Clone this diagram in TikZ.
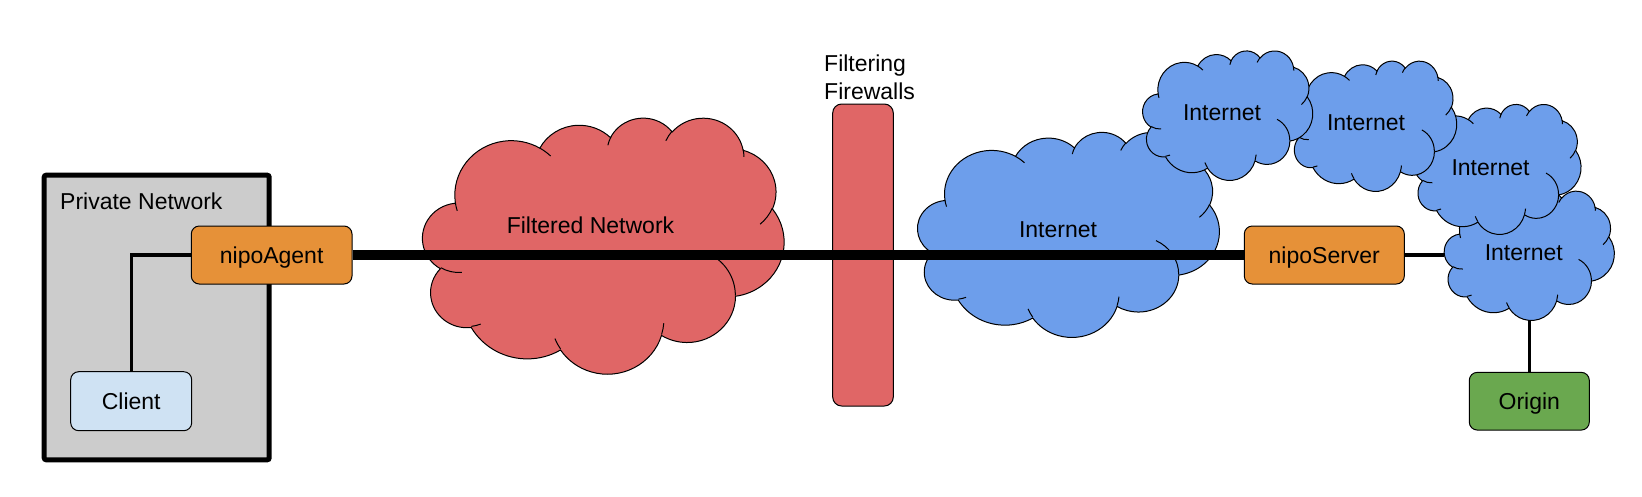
\documentclass[tikz,border=0pt]{standalone}
\usepackage{fontspec}
\setmainfont{Liberation Sans}
\definecolor{pgray}{HTML}{CCCCCC}
\definecolor{porange}{HTML}{E69138}
\definecolor{pclient}{HTML}{CFE2F3}
\definecolor{pred}{HTML}{E06666}
\definecolor{pblue}{HTML}{6D9EEB}
\definecolor{pgreen}{HTML}{6AA84F}

% convert a DrawingML arcTo (visual angles) into parametric TikZ angles
\newcommand\cvt[5]{%
  \pgfmathsetmacro\cvtS{atan2((#2)*sin(#4),(#3)*cos(#4))}%
  \pgfmathsetmacro\cvtE{atan2((#2)*sin((#4)+(#5)),(#3)*cos((#4)+(#5)))}%
  \pgfmathsetmacro\cvtD{\cvtE-\cvtS}%
  \pgfmathsetmacro\cvtD{(#5)>0 ? (\cvtD<0 ? \cvtD+360 : \cvtD) : (\cvtD>0 ? \cvtD-360 : \cvtD)}%
  \pgfmathsetmacro\cvtT{\cvtS+\cvtD}%
  \expandafter\xdef\csname cs#1\endcsname{\cvtS}%
  \expandafter\xdef\csname ce#1\endcsname{\cvtT}%
}
\cvt{OA}{6.753}{9.19}{-190.4875}{123.7805}
\cvt{OB}{5.333}{7.267}{-144.1024}{89.9452}
\cvt{OC}{4.365}{5.945}{-145.8079}{99.7230}
\cvt{OD}{4.857}{6.595}{-130.9861}{117.2417}
\cvt{OE}{5.333}{7.273}{-78.7089}{109.0269}
\cvt{OF}{6.775}{9.22}{-46.2673}{130.2690}
\cvt{OG}{5.785}{7.867}{0.6250}{114.0333}
\cvt{OH}{6.752}{9.215}{22.4516}{115.1726}
\cvt{OI}{7.72}{10.543}{66.2426}{75.7110}
\cvt{OJ}{4.36}{5.918}{-274.9421}{146.7356}
\cvt{OK}{4.345}{5.945}{-246.8285}{152.5189}
\cvt{IA}{4.345}{5.945}{86.7420}{26.4295}
\cvt{IB}{4.36}{5.918}{73.6105}{11.4475}
\cvt{IC}{6.752}{9.215}{137.6242}{14.0811}
\cvt{ID}{6.752}{9.215}{6.4533}{15.9984}
\cvt{IE}{5.785}{7.867}{-70.2924}{70.9174}
\cvt{IF}{5.333}{7.273}{30.3180}{27.7515}
\cvt{IG}{4.857}{6.595}{-13.7443}{14.8589}
\cvt{IH}{4.857}{6.595}{-149.1815}{18.1954}
\cvt{II}{4.365}{5.945}{-163.4943}{17.6864}
\cvt{IJ}{6.753}{9.19}{-66.7070}{12.3194}
\cvt{IK}{6.753}{9.19}{157.6544}{11.8582}

% #1 area node, #2 x unit, #3 y unit, #4 fill
\newcommand\cloudshape[4]{%
\begin{scope}[shift={(#1.north west)}, x=#2pt, y=-#3pt]
\filldraw[cloudline, fill=#4] (3.9,14.37)
  arc[start angle=\csOA, end angle=\ceOA, x radius=6.753, y radius=9.19]
  arc[start angle=\csOB, end angle=\ceOB, x radius=5.333, y radius=7.267]
  arc[start angle=\csOC, end angle=\ceOC, x radius=4.365, y radius=5.945]
  arc[start angle=\csOD, end angle=\ceOD, x radius=4.857, y radius=6.595]
  arc[start angle=\csOE, end angle=\ceOE, x radius=5.333, y radius=7.273]
  arc[start angle=\csOF, end angle=\ceOF, x radius=6.775, y radius=9.22]
  arc[start angle=\csOG, end angle=\ceOG, x radius=5.785, y radius=7.867]
  arc[start angle=\csOH, end angle=\ceOH, x radius=6.752, y radius=9.215]
  arc[start angle=\csOI, end angle=\ceOI, x radius=7.72, y radius=10.543]
  arc[start angle=\csOJ, end angle=\ceOJ, x radius=4.36, y radius=5.918]
  arc[start angle=\csOK, end angle=\ceOK, x radius=4.345, y radius=5.945]
  -- cycle;
\draw[cloudline]
  (4.693,26.177) arc[start angle=\csIA, end angle=\ceIA, x radius=4.345, y radius=5.945]
  (6.928,34.899) arc[start angle=\csIB, end angle=\ceIB, x radius=4.36, y radius=5.918]
  (16.478,39.09) arc[start angle=\csIC, end angle=\ceIC, x radius=6.752, y radius=9.215]
  (28.827,34.751) arc[start angle=\csID, end angle=\ceID, x radius=6.752, y radius=9.215]
  (34.129,22.954) arc[start angle=\csIE, end angle=\ceIE, x radius=5.785, y radius=7.867]
  (41.798,15.354) arc[start angle=\csIF, end angle=\ceIF, x radius=5.333, y radius=7.273]
  (38.324,5.426) arc[start angle=\csIG, end angle=\ceIG, x radius=4.857, y radius=6.595]
  (29.078,3.952) arc[start angle=\csIH, end angle=\ceIH, x radius=4.857, y radius=6.595]
  (22.141,4.72) arc[start angle=\csII, end angle=\ceII, x radius=4.365, y radius=5.945]
  (14,5.192) arc[start angle=\csIJ, end angle=\ceIJ, x radius=6.753, y radius=9.19]
  (4.127,15.789) arc[start angle=\csIK, end angle=\ceIK, x radius=6.753, y radius=9.19];
\end{scope}}

\begin{document}
\begin{tikzpicture}[x=1pt, y=-1pt,
  txt/.style={font=\fontsize{23}{27.6}\selectfont},
  lbl/.style={txt, inner sep=0, anchor=base},
  boxnode/.style={txt, draw=black, line width=1pt, rounded corners=8pt, inner sep=0,
    text height=17pt, text depth=0pt},
  area/.style={inner sep=0, outer sep=0, draw=none},
  cloudline/.style={draw=black, line width=1pt},
  conn/.style={draw=black, line width=3.4pt},
  thickconn/.style={draw=black, line width=10pt}]
\fill[white] (0,0) rectangle (1642,496);
\useasboundingbox (0,0) rectangle (1642,496);

% boxes
\node[draw=black, line width=5pt, fill=pgray, rounded corners=2pt, inner sep=0,
  minimum width=225pt, minimum height=284.6pt] (private) at (156.7,317.5) {};
\node[boxnode, fill=pclient, minimum width=121pt, minimum height=59pt] (Client) at (131.2,401.2) {Client};
\node[boxnode, fill=porange, minimum width=160.7pt, minimum height=58pt] (nipoAgent) at (271.65,255) {nipoAgent};
\node[boxnode, fill=porange, minimum width=160pt, minimum height=58pt] (nipoServer) at (1324.3,255) {nipoServer};
\node[boxnode, fill=pgreen, minimum width=120pt, minimum height=57.7pt] (Origin) at (1529.3,401.2) {Origin};
\node[draw=black, line width=1pt, fill=pred, rounded corners=9pt, inner sep=0,
  minimum width=60.6pt, minimum height=302pt] (firewall) at (863,255) {};

% cloud areas
\node[area, minimum width=361.3pt, minimum height=256pt] (fnet) at (603.35,245.3) {};
\node[area, minimum width=301.6pt, minimum height=205pt] (c1) at (1068.5,234.2) {};
\node[area, minimum width=170pt, minimum height=129.5pt] (c2) at (1227.7,115.25) {};
\node[area, minimum width=166pt, minimum height=130.3pt] (c3) at (1373.7,125.85) {};
\node[area, minimum width=166.7pt, minimum height=130pt] (c4) at (1497.65,169) {};
\node[area, minimum width=170pt, minimum height=129.3pt] (c5) at (1529.3,255.35) {};

% thin connectors
\draw[conn] (Client.north) |- (nipoAgent.west);
\draw[conn] (nipoServer.east) -- (nipoServer.east -| c5.west);
\draw[conn] (c5.south) -- (Origin.north);

% clouds
\cloudshape{fnet}{8.3634}{5.9259}{pred}
\cloudshape{c1}{6.9815}{4.7454}{pblue}
\cloudshape{c5}{3.9352}{2.9931}{pblue}
\cloudshape{c4}{3.8588}{3.0093}{pblue}
\cloudshape{c3}{3.8426}{3.0162}{pblue}
\cloudshape{c2}{3.9352}{2.9977}{pblue}

% main link
\draw[thickconn] (nipoAgent.east) -- (nipoServer.west);

% labels
\node[lbl, anchor=base west] (pnlabel) at (60,209) {Private Network};
\node[lbl, anchor=base west, align=left] (fwlabel) at (824,99.3) {Filtering\\Firewalls};
\node[lbl] (flabel) at (590.5,233.3) {Filtered Network};
\node[lbl] (lab1) at (1058,237.3) {Internet};
\node[lbl] (lab2) at (1222,120.7) {Internet};
\node[lbl] (lab3) at (1366,130.7) {Internet};
\node[lbl] (lab4) at (1490.5,175) {Internet};
\node[lbl] (lab5) at (1523.8,260.7) {Internet};
\end{tikzpicture}
\end{document}
